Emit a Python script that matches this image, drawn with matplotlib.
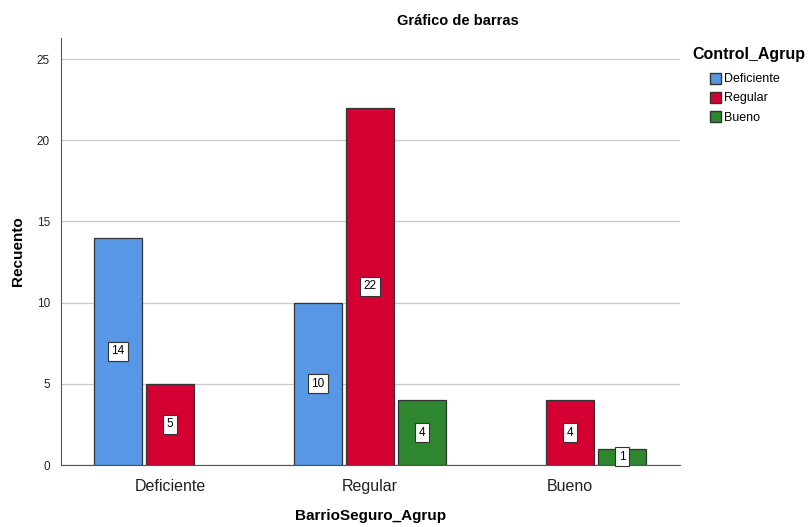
import numpy as np
import matplotlib.pyplot as plt
from matplotlib.patches import Patch

plt.rcParams['font.family'] = ['Liberation Sans', 'DejaVu Sans']

# Data
categories = ['Deficiente', 'Regular', 'Bueno']
series = ['Deficiente', 'Regular', 'Bueno']
counts = {
    'Deficiente': [14, 10, 0],
    'Regular': [5, 22, 4],
    'Bueno': [0, 4, 1],
}
colors = ['#5797E5', '#D50032', '#2E862E']

W, H = 811, 527
fig = plt.figure(figsize=(W / 100, H / 100), dpi=100)
ax = fig.add_axes([61 / W, 1 - 465 / H, (680 - 61) / W, (465 - 38) / H])

x = np.arange(len(categories))
step = 0.26
width = 0.24
for i, (name, col) in enumerate(zip(series, colors)):
    vals = counts[name]
    pos = x + (i - 1) * step
    for p, v in zip(pos, vals):
        if v == 0:
            continue
        ax.bar(p, v, width=width, color=col, edgecolor='#333333', linewidth=0.9, zorder=3)
        ax.text(p, v / 2, str(v), ha='center', va='center', fontsize=8.5, zorder=4,
                bbox=dict(boxstyle='square,pad=0.3', fc='white', ec='#333333', lw=0.8))

ax.set_xlim(-0.545, 2.55)
ax.set_ylim(0, 26.3)
ax.set_yticks([0, 5, 10, 15, 20, 25])
ax.yaxis.grid(True, color='#cccccc', linewidth=1, zorder=0)
ax.set_axisbelow(True)
for s in ['top', 'right']:
    ax.spines[s].set_visible(False)
ax.spines['left'].set_color('#555555')
ax.spines['bottom'].set_color('#555555')
ax.tick_params(axis='y', length=0, pad=8, labelsize=8.5, labelcolor='#222222')
ax.tick_params(axis='x', length=0, pad=10, labelsize=11.5, labelcolor='#222222')
ax.set_xticks(x)
ax.set_xticklabels(categories)

ax.set_xlabel('BarrioSeguro_Agrup', fontsize=11, fontweight='bold')
ax.xaxis.set_label_coords(0.5, -(516 - 465) / (465 - 38), transform=ax.transAxes)
ax.xaxis.label.set_va('center')
ax.set_ylabel('Recuento', fontsize=11, fontweight='bold')
ax.yaxis.set_label_coords(-(61 - 18) / (680 - 61), 0.5, transform=ax.transAxes)
ax.yaxis.label.set_va('center')

fig.text(458 / W, 1 - 21 / H, 'Gráfico de barras', ha='center', va='center',
         fontsize=10.5, fontweight='bold')

fig.text(749 / W, 1 - 55 / H, 'Control_Agrup', ha='center', va='center',
         fontsize=11.5, fontweight='bold')
handles = [Patch(facecolor=c, edgecolor='#333333', label=n) for n, c in zip(series, colors)]
leg = fig.legend(handles=handles, loc='upper left',
                 bbox_to_anchor=(707 / W, 1 - 70 / H), frameon=False, fontsize=9,
                 handlelength=0.95, handleheight=1.0, handletextpad=0.2,
                 labelspacing=0.5, borderpad=0.2, borderaxespad=0)

fig.savefig('out.png', dpi=100)
